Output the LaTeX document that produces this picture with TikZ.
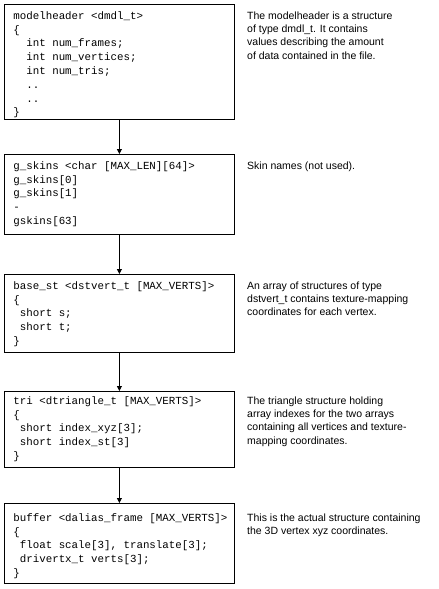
\documentclass[tikz,border=0pt]{standalone}
\usepackage{fontspec}
\setmainfont{Liberation Sans}
\setmonofont{Liberation Mono}
\usepackage{tikz}
\usetikzlibrary{arrows.meta,positioning}

\begin{document}
\begin{tikzpicture}[x=1pt, y=1pt, line width=0.8pt,
    codebox/.style={draw, anchor=north west, minimum width=230pt, inner sep=0pt},
    code/.style={align=left, inner sep=0pt,
                 font=\fontsize{10.8}{13.8}\selectfont\ttfamily},
    note/.style={align=left, inner sep=0pt,
                 font=\fontsize{10.5}{13.4}\selectfont}]
  \useasboundingbox (0,0) rectangle (439,-589);
  % struct boxes, top edge / height
  \foreach \i/\t/\h in {1/4/115, 2/154/80, 3/274/78, 4/391/76, 5/503/80}{
    \node[codebox, minimum height=\h] (b\i) at (4,-\t) {};}
  % box contents
  \node[code, below right=7pt and 9pt of b1.north west] (c1)
    {modelheader <dmdl\_t>\\\{\\\ \ int num\_frames;\\\ \ int num\_vertices;\\
     \ \ int num\_tris;\\\ \ ..\\\ \ ..\\\}};
  \node[code, below right=7pt and 9pt of b2.north west] (c2)
    {g\_skins <char [MAX\_LEN][64]>\\g\_skins[0]\\g\_skins[1]\\-\\gskins[63]};
  \node[code, below right=7pt and 9pt of b3.north west] (c3)
    {base\_st <dstvert\_t [MAX\_VERTS]>\\\{\\\ short s;\\\ short t;\\\}};
  \node[code, below right=5pt and 9pt of b4.north west] (c4)
    {tri <dtriangle\_t [MAX\_VERTS]>\\\{\\\ short index\_xyz[3];\\
     \ short index\_st[3]\\\}};
  \node[code, below right=10pt and 9pt of b5.north west] (c5)
    {buffer <dalias\_frame [MAX\_VERTS]>\\\{\\\ float scale[3], translate[3];\\
     \ drivertx\_t verts[3];\\\}};
  % descriptions
  \node[note, below right=7pt and 12pt of b1.north east] (d1)
    {The modelheader is a structure\\of type dmdl\_t. It contains\\
     values describing the amount\\of data contained in the file.};
  \node[note, below right=7pt and 12pt of b2.north east] (d2)
    {Skin names (not used).};
  \node[note, below right=7pt and 12pt of b3.north east] (d3)
    {An array of structures of type\\dstvert\_t contains texture-mapping\\
     coordinates for each vertex.};
  \node[note, below right=5pt and 12pt of b4.north east] (d4)
    {The triangle structure holding\\array indexes for the two arrays\\
     containing all vertices and texture-\\mapping coordinates.};
  \node[note, below right=10pt and 12pt of b5.north east] (d5)
    {This is the actual structure containing\\the 3D vertex xyz coordinates.};
  % arrows between boxes
  \foreach \i [evaluate=\i as \j using int(\i+1)] in {1,...,4}{
    \draw[-{Triangle[length=5pt, width=5pt]}] (b\i) -- (b\j);}
\end{tikzpicture}
\end{document}
